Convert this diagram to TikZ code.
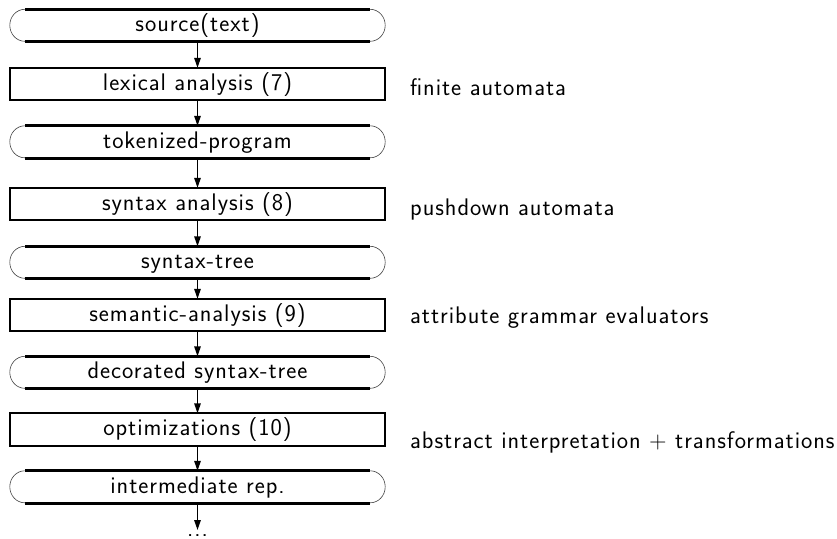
\documentclass[tikz,border=0pt]{standalone}
\usepackage{fontspec}
\setsansfont{Latin Modern Sans}[LetterSpace=4]
\usetikzlibrary{arrows.meta}
\begin{document}
\begin{tikzpicture}[x=1pt,y=-1pt,
  txt/.style={font=\sffamily\fontsize{24}{28}\selectfont, inner sep=0pt},
  stage/.style={txt, minimum width=375pt, minimum height=32pt, text height=17pt, text depth=5pt, anchor=center},
  note/.style={txt, anchor=base west},
  arr/.style={line width=1.4pt, -{Triangle[length=10pt,width=6.5pt]}},
  thinedge/.style={line width=0.6pt, black!75},
  thickedge/.style={line width=3pt},
  procedge/.style={line width=1.9pt},
]
\useasboundingbox (0,0) rectangle (837,538);
% stages
\node[stage] (src)  at (197.5,25.5) {source(text)};
\node[stage] (lex)  at (197.5,84)   {lexical analysis (7)};
\node[stage] (tok)  at (197.5,142)  {tokenized-program};
\node[stage] (syn)  at (197.5,204)  {syntax analysis (8)};
\node[stage] (st)   at (197.5,262.5){syntax-tree};
\node[stage] (sem)  at (197.5,315)  {semantic-analysis (9)};
\node[stage] (dec)  at (197.5,372.5){decorated syntax-tree};
\node[stage] (opt)  at (197.5,429.5){optimizations (10)};
\node[stage] (ir)   at (197.5,487)  {intermediate rep.};
\coordinate (end) at (197.5,530);
\node[txt, anchor=base, text height=3pt, text depth=0pt] (dots) at (197.5,536.5) {...};
% data shapes
\foreach \n in {src,tok,st,dec,ir}{
  \draw[thinedge] ([xshift=15pt]\n.north west) arc[start angle=90, end angle=270, x radius=15pt, y radius=16pt];
  \draw[thinedge] ([xshift=-15pt]\n.north east) arc[start angle=90, end angle=-90, x radius=15pt, y radius=16pt];
  \draw[thickedge] ([xshift=15pt]\n.north west) -- ([xshift=-15pt]\n.north east);
  \draw[thickedge] ([xshift=15pt]\n.south west) -- ([xshift=-15pt]\n.south east);
}
% process shapes
\foreach \n in {lex,syn,sem,opt}{
  \draw[procedge] (\n.north west) rectangle (\n.south east);
}
% arrows
\draw[arr] (src) -- (lex);
\draw[arr] (lex) -- (tok);
\draw[arr] (tok) -- (syn);
\draw[arr] (syn) -- (st);
\draw[arr] (st) -- (sem);
\draw[arr] (sem) -- (dec);
\draw[arr] (dec) -- (opt);
\draw[arr] (opt) -- (ir);
\draw[arr] (ir) -- (end);
% notes
\node[note] (n1) at (410,95)  {finite automata};
\node[note] (n2) at (410,215) {pushdown automata};
\node[note] (n3) at (410,323) {attribute grammar evaluators};
\node[note] (n4) at (410,448) {abstract interpretation + transformations};
\end{tikzpicture}
\end{document}
